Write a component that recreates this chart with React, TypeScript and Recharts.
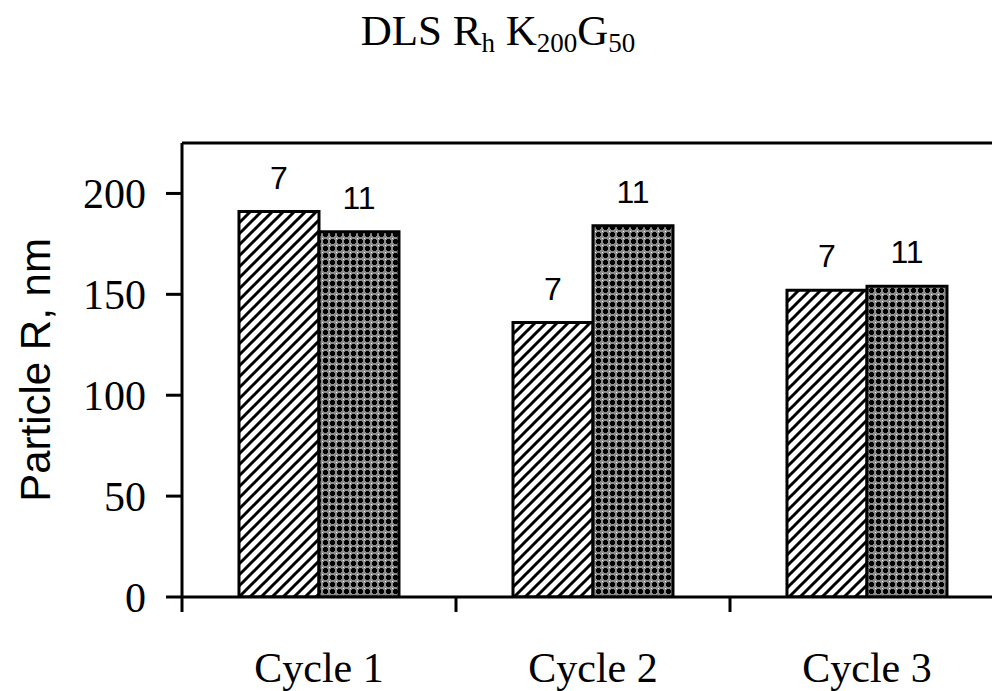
import { BarChart, Bar, XAxis, YAxis, ReferenceLine, LabelList } from "recharts";

const cycles = ["Cycle 1", "Cycle 2", "Cycle 3"];
const seriesNames = ["7", "11"];
const radius7 = [191, 136, 152];
const radius11 = [181, 184, 154];
const yTicks = [0, 50, 100, 150, 200];
const yMax = 225;

const data = cycles.map((c, i) => ({ cycle: c, r7: radius7[i], r11: radius11[i] }));

const W = 1010;
const H = 691;
const margin = { top: 143, right: 6, left: 0, bottom: 0 };
const Y_AXIS_W = 182;
const X_AXIS_H = 94;
// width of one category band, used for the boundary tick marks
const band = (W - margin.left - margin.right - Y_AXIS_W) / cycles.length;

const serif = "'Liberation Serif', 'Times New Roman', serif";
const sans = "'Liberation Sans', Arial, sans-serif";

function CycleTick(props: any) {
  const { x, y, payload } = props;
  const left = x - band / 2;
  return (
    <g>
      <line x1={left} x2={left} y1={y - 15} y2={y} stroke="#000" strokeWidth={3} />
      <text x={x} y={y + 70} textAnchor="middle" fontFamily={serif} fontSize={42} fill="#000">
        {payload.value}
      </text>
    </g>
  );
}

// series name drawn above each bar
const seriesLabel = (name: string) => (p: any) => (
  <text
    x={Number(p.x) + Number(p.width) / 2}
    y={Number(p.y) - 23}
    textAnchor="middle"
    fontFamily={sans}
    fontSize={32}
    fill="#000"
  >
    {name}
  </text>
);

export default function App() {
  return (
    <div style={{ position: "absolute", left: 0, top: 0, width: 992, height: 691, overflow: "hidden", background: "#fff" }}>
      <div
        style={{
          position: "absolute",
          left: 0,
          top: 9,
          width: 996,
          textAlign: "center",
          fontFamily: serif,
          fontSize: 43,
          lineHeight: 1,
          color: "#000",
          whiteSpace: "nowrap",
        }}
      >
        DLS R<span style={{ fontSize: 27, verticalAlign: -7 }}>h</span> K
        <span style={{ fontSize: 27, verticalAlign: -7 }}>200</span>G
        <span style={{ fontSize: 27, verticalAlign: -7 }}>50</span>
      </div>
      <BarChart width={W} height={H} data={data} margin={margin} barCategoryGap="20.8%" barGap={0}>
        <defs>
          <pattern id="hatch" patternUnits="userSpaceOnUse" width="11" height="11">
            <rect width="11" height="11" fill="#fff" />
            <path d="M-1,1 L1,-1 M0,11 L11,0 M10,12 L12,10" stroke="#000" strokeWidth="3" />
          </pattern>
          <pattern id="trellis" patternUnits="userSpaceOnUse" width="7" height="7">
            <rect width="7" height="7" fill="#8c8c8c" />
            <rect x="2" y="1" width="3" height="5" fill="#000" />
            <rect x="1" y="2" width="5" height="3" fill="#000" />
            <rect x="0" y="0" width="1" height="1" fill="#fff" />
          </pattern>
        </defs>
        <XAxis
          dataKey="cycle"
          height={X_AXIS_H}
          axisLine={{ stroke: "#000", strokeWidth: 3 }}
          tickLine={false}
          tickSize={15}
          tickMargin={0}
          tick={<CycleTick />}
          interval={0}
        />
        <YAxis
          width={Y_AXIS_W}
          domain={[0, yMax]}
          ticks={yTicks}
          allowDataOverflow
          axisLine={{ stroke: "#000", strokeWidth: 3 }}
          tickLine={{ stroke: "#000", strokeWidth: 3 }}
          tickSize={16}
          tickMargin={20}
          tick={{ fill: "#000", fontFamily: serif, fontSize: 42 }}
          label={{
            value: "Particle R, nm",
            angle: -90,
            position: "insideLeft",
            offset: 35,
            fill: "#000",
            fontFamily: sans,
            fontSize: 42,
            style: { textAnchor: "middle" },
          }}
        />
        <ReferenceLine y={yMax} stroke="#000" strokeWidth={3} />
        <Bar dataKey="r7" name={seriesNames[0]} fill="url(#hatch)" stroke="#000" strokeWidth={3} isAnimationActive={false}>
          <LabelList dataKey="r7" content={seriesLabel(seriesNames[0])} />
        </Bar>
        <Bar dataKey="r11" name={seriesNames[1]} fill="url(#trellis)" stroke="#000" strokeWidth={3} isAnimationActive={false}>
          <LabelList dataKey="r11" content={seriesLabel(seriesNames[1])} />
        </Bar>
      </BarChart>
    </div>
  );
}
